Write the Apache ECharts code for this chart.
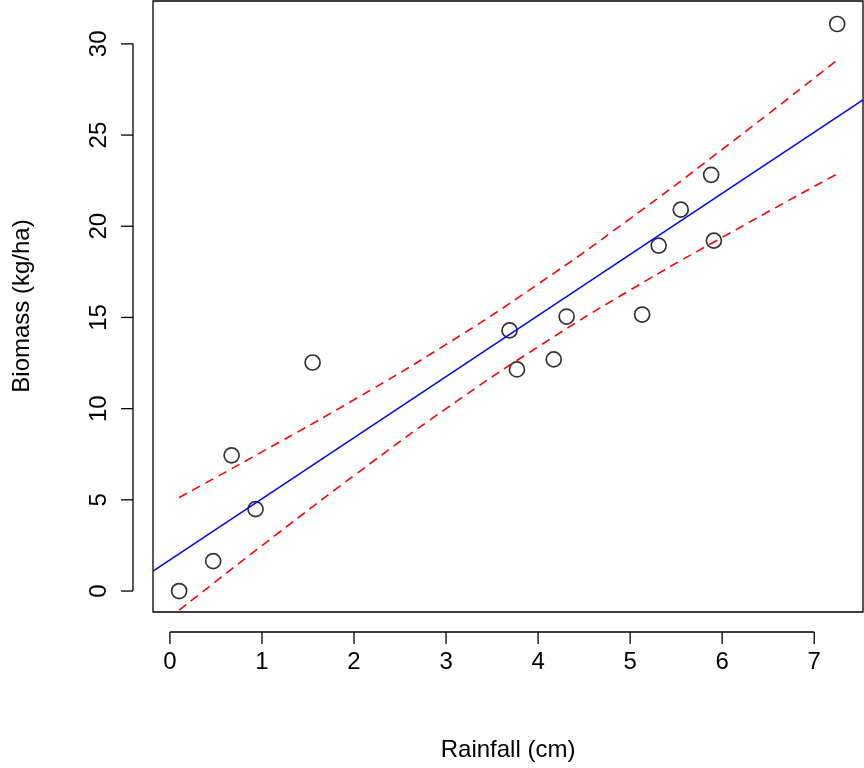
<!DOCTYPE html>
<html><head><meta charset="utf-8">
<script src="https://cdn.jsdelivr.net/npm/echarts@6/dist/echarts.min.js"></script>
<style>html,body{margin:0;padding:0;background:#fff}#c{width:864px;height:768px}</style>
</head><body><div id="c"></div>
<script>
// observed points
const rainfall = [0.10,0.47,0.67,0.93,1.55,3.69,3.77,4.17,4.31,5.13,5.31,5.55,5.88,5.91,7.25];
const biomass  = [0.0,1.64,7.44,4.49,12.53,14.29,12.15,12.70,15.05,15.16,18.94,20.91,22.82,19.21,31.09];
// fitted line
const intercept = 1.71, slope = 3.349;
// confidence band
const bandX     = [0.1,1,2,3,4,5,6,7.25];
const bandUpper = [5.13,7.63,10.49,13.52,16.83,20.42,24.21,29.11];
const bandLower = [-1.05,2.49,6.33,10.0,13.39,16.5,19.39,22.87];
const xTicks = [0,1,2,3,4,5,6,7];
const yTicks = [0,5,10,15,20,25,30];

const xMin = -0.184, xMax = 7.53, yMin = -1.15, yMax = 32.35;
const font = 'Liberation Sans, Arial, sans-serif';

const chart = echarts.init(document.getElementById('c'));
chart.setOption({
  animation: false,
  grid: {left: 153, right: 1, top: 1, bottom: 156, show: true, borderColor: '#000', borderWidth: 1.3},
  xAxis: {type: 'value', min: xMin, max: xMax, splitLine: {show: false},
    axisLine: {show: false}, axisTick: {show: false}, axisLabel: {show: false}},
  yAxis: {type: 'value', min: yMin, max: yMax, splitLine: {show: false},
    axisLine: {show: false}, axisTick: {show: false}, axisLabel: {show: false}},
  series: [
    {type: 'line', data: [[xMin, intercept + slope * xMin], [xMax, intercept + slope * xMax]],
     symbol: 'none', lineStyle: {color: '#0000ff', width: 1.5}},
    {type: 'line', smooth: true, data: bandX.map((x, i) => [x, bandUpper[i]]), symbol: 'none',
     lineStyle: {color: '#ff0000', width: 1.6, type: [9, 6]}},
    {type: 'line', smooth: true, data: bandX.map((x, i) => [x, bandLower[i]]), symbol: 'none',
     lineStyle: {color: '#ff0000', width: 1.6, type: [9, 6]}},
    {type: 'scatter', data: rainfall.map((x, i) => [x, biomass[i]]), symbol: 'circle', symbolSize: 15,
     itemStyle: {color: 'rgba(0,0,0,0)', borderColor: '#000', borderWidth: 1.7}}
  ]
});

// R-style axes drawn from the chart's own scales
const px = (x, y) => chart.convertToPixel({gridIndex: 0}, [x, y]);
const els = [];
const axY = 632, axX = 133;
const x0 = px(xTicks[0], 0)[0], x1 = px(xTicks[xTicks.length - 1], 0)[0];
els.push({type: 'line', shape: {x1: x0, y1: axY, x2: x1, y2: axY}, style: {stroke: '#000', lineWidth: 1.3}});
xTicks.forEach(t => {
  const p = px(t, 0)[0];
  els.push({type: 'line', shape: {x1: p, y1: axY, x2: p, y2: axY + 12}, style: {stroke: '#000', lineWidth: 1.3}});
  els.push({type: 'text', x: p, y: axY + 18, style: {text: String(t), font: '24px ' + font, fill: '#000', align: 'center', verticalAlign: 'top'}});
});
const y0 = px(0, yTicks[0])[1], y1 = px(0, yTicks[yTicks.length - 1])[1];
els.push({type: 'line', shape: {x1: axX, y1: y0, x2: axX, y2: y1}, style: {stroke: '#000', lineWidth: 1.3}});
yTicks.forEach(t => {
  const p = px(0, t)[1];
  els.push({type: 'line', shape: {x1: axX, y1: p, x2: axX - 12, y2: p}, style: {stroke: '#000', lineWidth: 1.3}});
  els.push({type: 'text', x: axX - 22, y: p, rotation: Math.PI / 2,
    style: {text: String(t), font: '24px ' + font, fill: '#000', align: 'center', verticalAlign: 'bottom'}});
});
els.push({type: 'text', x: (x0 + x1) / 2 + 16, y: 750, style: {text: 'Rainfall (cm)', font: '24px ' + font, fill: '#000', align: 'center', verticalAlign: 'middle'}});
els.push({type: 'text', x: 22, y: 306, rotation: Math.PI / 2, style: {text: 'Biomass (kg/ha)', font: '24px ' + font, fill: '#000', align: 'center', verticalAlign: 'middle'}});
chart.setOption({graphic: {elements: els}});
</script></body></html>
